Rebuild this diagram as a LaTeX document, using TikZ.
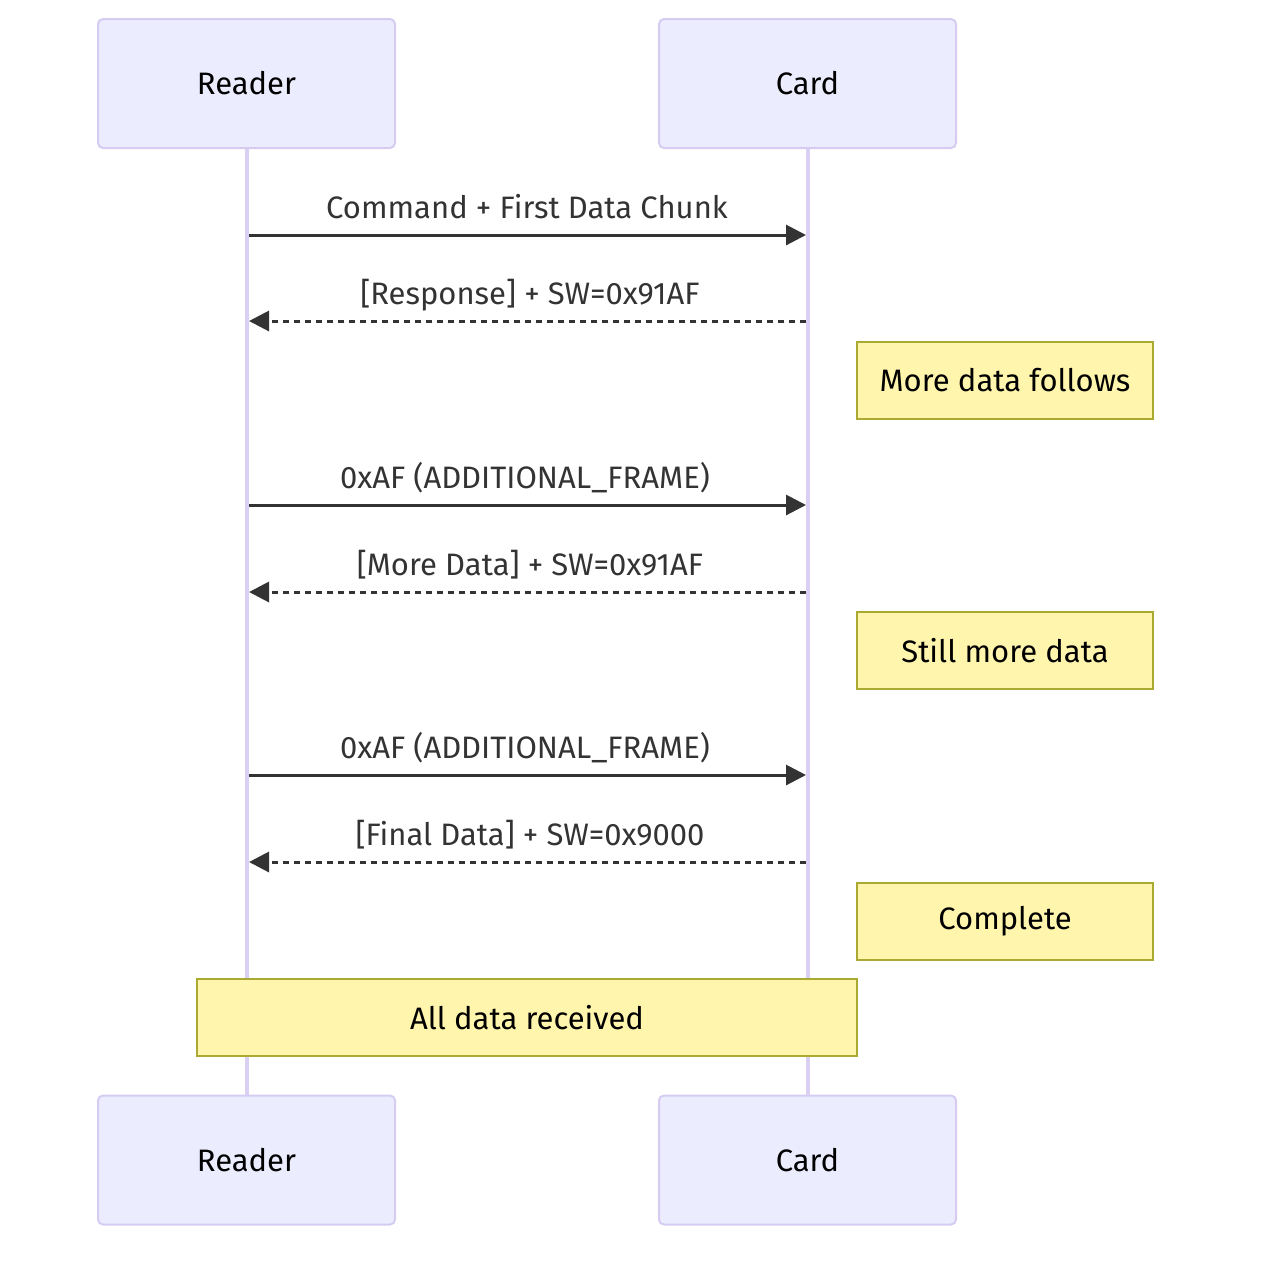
\documentclass[tikz,border=0pt]{standalone}
\usepackage{fontspec}
\setmainfont{Fira Sans}
\usetikzlibrary{arrows.meta}
\definecolor{actfill}{HTML}{ECECFF}
\definecolor{actline}{HTML}{D6CCF2}
\definecolor{lifeline}{HTML}{DAD0F4}
\definecolor{notefill}{HTML}{FFF5AD}
\definecolor{noteline}{HTML}{AAAA33}
\definecolor{msg}{HTML}{333333}
\tikzset{
  actor/.style={draw=actline, fill=actfill, line width=2pt, rounded corners=5pt,
    minimum width=297pt, minimum height=129pt, inner sep=0pt, text=black, font=\fontsize{31}{36}\selectfont},
  note/.style={draw=noteline, fill=notefill, line width=2pt, minimum height=77pt,
    inner sep=0pt, text=black, font=\fontsize{31}{36}\selectfont},
  life/.style={draw=lifeline, line width=4pt},
  msgline/.style={draw=msg, line width=3pt, -{Triangle[length=20pt,width=20pt]}},
  reply/.style={msgline, dash pattern=on 6pt off 5pt},
  lbl/.style={text=msg, font=\fontsize{31}{36}\selectfont, anchor=base, inner sep=0pt},
}
\begin{document}
\begin{tikzpicture}[x=1pt,y=-1pt]
\useasboundingbox (0,0) rectangle (1268,1262);
% lifelines
\coordinate (rt) at (247,148);
\coordinate (rb) at (247,1096);
\coordinate (ct) at (808,148);
\coordinate (cb) at (808,1096);
\draw[life] (rt) -- (rb);
\draw[life] (ct) -- (cb);
% actors
\node[actor] (r1) at (246.5,83.5) {Reader};
\node[actor] (c1) at (807.5,83.5) {Card};
\node[actor] (r2) at (246.5,1160) {Reader};
\node[actor] (c2) at (807.5,1160) {Card};
% message endpoints
\foreach \i/\y in {1/235,2/321,3/505,4/592,5/775,6/862}{
  \coordinate (L\i) at (249,\y);
  \coordinate (R\i) at (806,\y);
}
\draw[msgline] (L1) -- (R1);
\node[lbl] (m1) at (527,218) {Command + First Data Chunk};
\draw[reply] (R2) -- (L2);
\node[lbl] (m2) at (530,304) {[Response] + SW=0x91AF};
\node[note, minimum width=296pt] (n1) at (1005,380) {More data follows};
\draw[msgline] (L3) -- (R3);
\node[lbl] (m3) at (525,488) {0xAF (ADDITIONAL\_FRAME)};
\draw[reply] (R4) -- (L4);
\node[lbl] (m4) at (530,575) {[More Data] + SW=0x91AF};
\node[note, minimum width=296pt] (n2) at (1005,650.5) {Still more data};
\draw[msgline] (L5) -- (R5);
\node[lbl] (m5) at (525,758) {0xAF (ADDITIONAL\_FRAME)};
\draw[reply] (R6) -- (L6);
\node[lbl] (m6) at (530,845) {[Final Data] + SW=0x9000};
\node[note, minimum width=296pt] (n3) at (1005,921) {Complete};
\node[note, minimum width=660pt] (n4) at (527,1017.5) {All data received};
\end{tikzpicture}
\end{document}
